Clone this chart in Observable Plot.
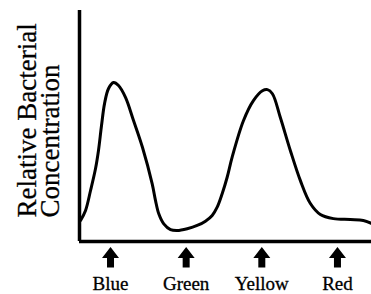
<!DOCTYPE html>
<html>
<head>
<meta charset="utf-8">
<script src="https://cdn.jsdelivr.net/npm/d3@7"></script>
<script src="https://cdn.jsdelivr.net/npm/@observablehq/plot@0.6"></script>
<style>
  html, body { margin: 0; padding: 0; background: #fff; }
  #chart svg { display: block; }
</style>
</head>
<body>
<div id="chart"></div>
<script>
// Categories along the x axis (light colour), placed at positions 1..4
const categories = ["Blue", "Green", "Yellow", "Red"];
const categoryPos = [1, 2, 3, 4];

// Curve (x in category units, y relative concentration 0-100)
const curveX = [0.604, 0.670, 0.736, 0.802, 0.841, 0.881, 0.921, 0.974, 1.040, 1.106,
                1.198, 1.304, 1.423, 1.551, 1.595, 1.638, 1.704, 1.793, 1.881, 2.014,
                2.146, 2.255, 2.344, 2.410, 2.476, 2.542, 2.608, 2.757, 2.889, 3.008,
                3.074, 3.140, 3.246, 3.378, 3.510, 3.642, 3.774, 3.946, 4.170, 4.342,
                4.448];
const curveY = [9.2, 13.6, 22.3, 31.9, 39.8, 50.7, 60.3, 66.9, 69.5, 68.2,
                63.0, 52.9, 41.1, 25.2, 17.9, 12.1, 7.7, 5.2, 4.8, 5.6,
                7.0, 8.9, 11.4, 15.0, 20.9, 28.1, 36.9, 52.8, 61.6, 65.9,
                66.4, 64.6, 54.1, 39.7, 26.6, 16.6, 11.8, 10.0, 9.6, 9.2,
                7.9];

const yLabel = "Relative Bacterial\nConcentration";
const xDomain = [0.59, 4.45];
const yDomain = [0, 101];

const curve = curveX.map((x, i) => ({x, y: curveY[i]}));
const cats = categories.map((name, i) => ({name, pos: categoryPos[i]}));

const upArrow = {
  draw(context) {
    context.moveTo(0, -10.5);
    context.lineTo(8.5, 0.5);
    context.lineTo(3.5, 0.5);
    context.lineTo(3.5, 10);
    context.lineTo(-3.5, 10);
    context.lineTo(-3.5, 0.5);
    context.lineTo(-8.5, 0.5);
    context.closePath();
  }
};

const font = "Liberation Serif";

const chart = Plot.plot({
  width: 371,
  height: 294,
  marginLeft: 79,
  marginRight: 0,
  marginTop: 10,
  marginBottom: 53,
  style: "font-family: 'Liberation Serif', serif; background: #fff; color: #000;",
  x: {domain: xDomain, axis: null},
  y: {domain: yDomain, axis: null},
  marks: [
    Plot.line(curve, {x: "x", y: "y", curve: "catmull-rom", stroke: "#000", strokeWidth: 3}),
    Plot.ruleX([xDomain[0]], {stroke: "#000", strokeWidth: 3.5}),
    Plot.ruleY([0], {stroke: "#000", strokeWidth: 3.5}),
    Plot.dot(cats, {x: "pos", frameAnchor: "bottom", dy: 16, symbol: upArrow, fill: "#000", stroke: "none", r: 10}),
    Plot.text(cats, {x: "pos", text: "name", frameAnchor: "bottom", dy: 48, lineAnchor: "bottom",
                     fontSize: 19, fontFamily: font, fill: "#000", stroke: "#000", strokeWidth: 0.3}),
    Plot.text([yLabel], {text: d => d, frameAnchor: "bottom-left", dx: -39, dy: -24, rotate: -90,
                         textAnchor: "start", lineAnchor: "middle", lineHeight: 0.85,
                         fontSize: 27, fontFamily: font, fill: "#000", stroke: "#000", strokeWidth: 0.3})
  ]
});
document.getElementById("chart").appendChild(chart);
</script>
</body>
</html>
